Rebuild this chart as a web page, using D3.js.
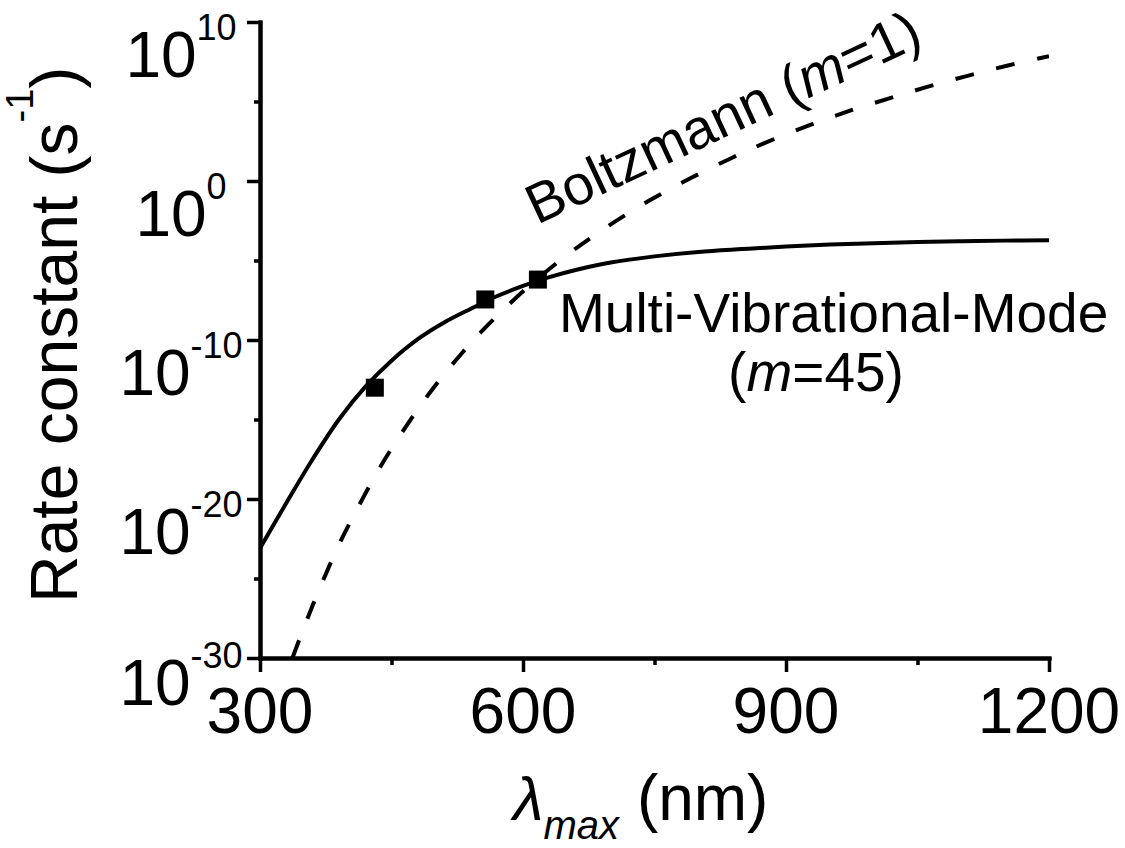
<!DOCTYPE html>
<html>
<head>
<meta charset="utf-8">
<script src="https://cdn.jsdelivr.net/npm/d3@7"></script>
<style>
  body { margin: 0; background: #fff; }
  svg { display: block; font-family: "Liberation Sans", Arial, sans-serif; }
</style>
</head>
<body>
<script>
const w = 1125;
const h = 848;

// wavelength (nm) and log10 of the rate constant (s^-1)
const multiLambda = [300, 330, 360, 390, 420, 450, 480, 510, 540, 570, 600, 630, 660, 700, 750, 800, 850, 900, 950, 1000, 1050, 1100, 1150, 1200];
const multiLogK = [-23.1, -20.25, -17.5, -15.0, -12.95, -11.3, -9.95, -8.9, -8.05, -7.25, -6.6, -6.05, -5.6, -5.13, -4.74, -4.46, -4.28, -4.12, -4.0, -3.91, -3.84, -3.79, -3.75, -3.72];

const boltzLambda = [337, 360, 389, 412, 437, 467, 498, 530, 560, 602, 648, 694, 745, 792, 838, 874, 924, 969, 1015, 1060, 1106, 1152, 1200];
const boltzLogK = [-30, -26.7, -23.0, -20.5, -18.0, -15.4, -13.0, -10.85, -9.05, -6.85, -4.75, -2.95, -1.2, 0.2, 1.45, 2.35, 3.45, 4.35, 5.15, 5.9, 6.6, 7.25, 7.85];

const expLambda = [431, 557, 617];
const expLogK = [-13.0, -7.45, -6.2];

const xTicks = [300, 600, 900, 1200];
const xMinor = [450, 750, 1050];
const yTicks = [-30, -20, -10, 0, 10];
const yMinor = [-25, -15, -5, 5];

const svg = d3.select('body').append('svg')
	.attr('width', w)
	.attr('height', h);

const x = d3.scaleLinear().domain([300, 1200]).range([260, 1049]);
const y = d3.scaleLog().domain([1e-30, 1e10]).range([658, 22]);

svg.append('clipPath').attr('id', 'plot')
	.append('rect')
	.attr('x', x(300)).attr('y', y(1e10))
	.attr('width', x(1200) - x(300)).attr('height', y(1e-30) - y(1e10));

const line = d3.line()
	.x(d => x(d[0]))
	.y(d => y(Math.pow(10, d[1])))
	.curve(d3.curveCatmullRom.alpha(0.5));

const plot = svg.append('g').attr('clip-path', 'url(#plot)');

plot.append('path')
	.datum(boltzLambda.map((l, i) => [l, boltzLogK[i]]))
	.attr('d', line)
	.attr('fill', 'none')
	.attr('stroke', '#000')
	.attr('stroke-width', 4)
	.attr('stroke-dasharray', '19,23');

plot.append('path')
	.datum(multiLambda.map((l, i) => [l, multiLogK[i]]))
	.attr('d', line)
	.attr('fill', 'none')
	.attr('stroke', '#000')
	.attr('stroke-width', 4);

svg.append('g')
	.selectAll('rect')
	.data(expLambda.map((l, i) => [l, expLogK[i]]))
	.enter()
	.append('rect')
	.attr('x', d => x(d[0]) - 9)
	.attr('y', d => y(Math.pow(10, d[1])) - 9)
	.attr('width', 18)
	.attr('height', 18)
	.attr('fill', '#000');

// axes
const styleAxis = g => {
	g.select('.domain').attr('stroke-width', 4).attr('stroke-linecap', 'square');
	g.selectAll('.tick line').attr('stroke-width', 3.5);
	g.selectAll('.tick text').remove();
};

svg.append('g')
	.attr('transform', `translate(${x(300)},0)`)
	.call(d3.axisLeft(y).tickValues(yMinor.map(e => Math.pow(10, e))).tickSize(6).tickSizeOuter(0).tickFormat(''))
	.call(styleAxis);

svg.append('g')
	.attr('transform', `translate(${x(300)},0)`)
	.call(d3.axisLeft(y).tickValues(yTicks.map(e => Math.pow(10, e))).tickSize(13).tickSizeOuter(0).tickFormat(''))
	.call(styleAxis);

svg.append('g')
	.attr('transform', `translate(0,${y(1e-30)})`)
	.call(d3.axisBottom(x).tickValues(xMinor).tickSize(7).tickSizeOuter(0).tickFormat(''))
	.call(styleAxis);

svg.append('g')
	.attr('transform', `translate(0,${y(1e-30)})`)
	.call(d3.axisBottom(x).tickValues(xTicks).tickSize(14).tickSizeOuter(0).tickFormat(''))
	.call(styleAxis);

// tick labels
svg.append('g')
	.selectAll('text')
	.data(xTicks)
	.enter()
	.append('text')
	.attr('x', d => x(d))
	.attr('y', 733)
	.attr('text-anchor', 'middle')
	.attr('font-size', 64)
	.text(d => d);

const yLabels = svg.append('g')
	.selectAll('text')
	.data(yTicks)
	.enter()
	.append('text')
	.attr('x', 181)
	.attr('y', d => y(Math.pow(10, d)) + (d === -30 ? 47 : 55))
	.attr('text-anchor', 'middle');

yLabels.append('tspan').attr('font-size', 64).text('10');
yLabels.append('tspan').attr('font-size', 36).attr('dy', -37).text(d => String(d));

// axis titles
const yTitle = svg.append('text')
	.attr('transform', 'translate(77,603) rotate(-90)')
	.attr('font-size', 66);
yTitle.append('tspan').text('Rate constant (s');
yTitle.append('tspan').attr('font-size', 38).attr('dy', -44).text('-1');
yTitle.append('tspan').attr('dy', 44).text(')');

const xTitle = svg.append('text')
	.attr('x', 513)
	.attr('y', 820)
	.attr('font-size', 64);
xTitle.append('tspan').attr('font-style', 'italic').attr('font-size', 62).text('λ');
xTitle.append('tspan').attr('font-style', 'italic').attr('font-size', 40).attr('dy', 19).text('max');
xTitle.append('tspan').attr('dy', -19).text(' (nm)');

// curve annotations
const boltz = svg.append('text')
	.attr('transform', 'translate(537,225) rotate(-25)')
	.attr('font-size', 56);
boltz.append('tspan').text('Boltzmann (');
boltz.append('tspan').attr('font-style', 'italic').text('m');
boltz.append('tspan').text('=1)');

svg.append('text')
	.attr('x', 559)
	.attr('y', 332)
	.attr('font-size', 55)
	.text('Multi-Vibrational-Mode');

const m45 = svg.append('text')
	.attr('x', 816)
	.attr('y', 391)
	.attr('text-anchor', 'middle')
	.attr('font-size', 55);
m45.append('tspan').text('(');
m45.append('tspan').attr('font-style', 'italic').text('m');
m45.append('tspan').text('=45)');
</script>
</body>
</html>
